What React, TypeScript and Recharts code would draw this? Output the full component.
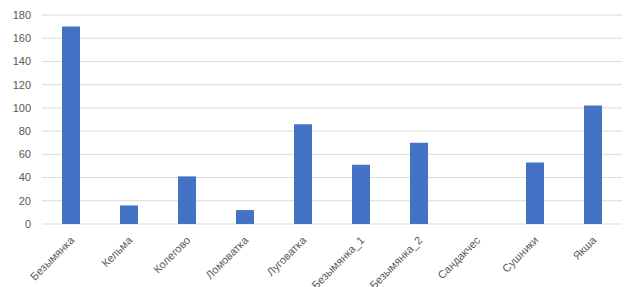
import React from "react";
import { BarChart, Bar, XAxis, YAxis, CartesianGrid } from "recharts";

const categories = [
  "Безымянка",
  "Кельма",
  "Колегово",
  "Ломоватка",
  "Луговатка",
  "Безымянка_1",
  "Безымянка_2",
  "Сандакчес",
  "Сушники",
  "Якша",
];
const values = [170, 16, 41, 12, 86, 51, 70, 0, 53, 102];
const yTicks = [0, 20, 40, 60, 80, 100, 120, 140, 160, 180];

const data = categories.map((name, i) => ({ name, value: values[i] }));

const FONT = "'Liberation Sans', Arial, sans-serif";

const XTick = (props: any) => {
  const { x, y, payload } = props;
  return (
    <g transform={`translate(${x + 4},${y + 17})`}>
      <text
        x={0}
        y={0}
        textAnchor="end"
        transform="rotate(-45)"
        fill="#595959"
        fontSize={11}
        fontFamily={FONT}
      >
        {payload.value}
      </text>
    </g>
  );
};

export default function App() {
  return (
    <div style={{ position: "absolute", left: 0, top: 0, width: 637, height: 287, background: "#fff" }}>
      <BarChart
        width={637}
        height={287}
        data={data}
        margin={{ top: 15, right: 15, left: 0, bottom: 0 }}
      >
        <CartesianGrid vertical={false} stroke="#d9d9d9" strokeWidth={1} />
        <XAxis
          dataKey="name"
          axisLine={false}
          tickLine={false}
          tickSize={0}
          tickMargin={0}
          height={63}
          interval={0}
          tick={<XTick />}
        />
        <YAxis
          domain={[0, 180]}
          ticks={yTicks}
          axisLine={false}
          tickLine={false}
          tickSize={0}
          tickMargin={11}
          width={42}
          tick={{ fill: "#595959", fontSize: 11, fontFamily: FONT }}
        />
        <Bar dataKey="value" fill="#4472c4" barSize={18} isAnimationActive={false} />
      </BarChart>
    </div>
  );
}
